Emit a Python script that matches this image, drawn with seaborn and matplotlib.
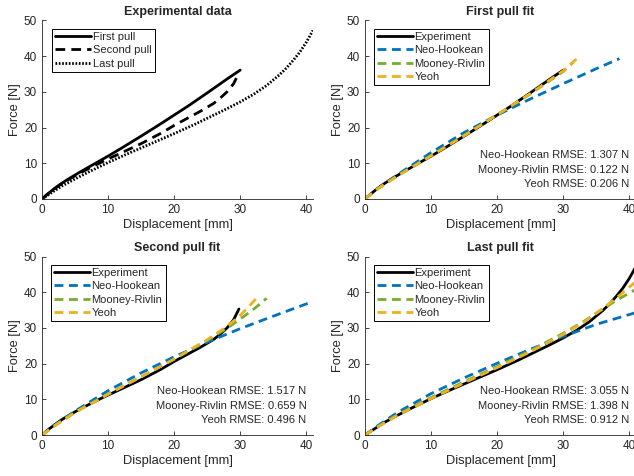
import numpy as np
import pandas as pd
import matplotlib
matplotlib.use("Agg")
import matplotlib.pyplot as plt
import seaborn as sns

# experimental curves: displacement [mm], force [N]
first_x = [0, 1, 2, 3, 4, 5, 6, 8, 10, 12, 15, 18, 20, 22, 25, 28, 30]
first_y = [0, 1.6, 3.1, 4.4, 5.6, 6.7, 7.8, 9.9, 12.0, 14.2, 17.6, 21.1, 23.5, 25.9, 29.7, 33.6, 36.1]
second_x = [0, 1, 2, 3, 4, 5, 6, 8, 10, 12, 15, 18, 20, 22, 24, 26, 27, 28, 29, 29.8]
second_y = [0, 1.6, 3.0, 4.3, 5.4, 6.5, 7.5, 9.4, 11.2, 12.9, 15.5, 18.4, 20.6, 22.6, 24.6, 26.8, 28.3, 30.0, 32.3, 35.3]
last_x = [0, 1, 2, 3, 5, 7, 10, 13, 15, 18, 20, 23, 25, 28, 30, 32, 34, 36, 37, 38, 39, 40, 41]
last_y = [0, 1.2, 2.4, 3.6, 5.6, 7.5, 10.2, 12.7, 14.3, 16.7, 18.3, 20.8, 22.6, 25.3, 27.2, 29.3, 31.8, 34.9, 36.7, 38.8, 41.1, 43.9, 47.2]

# model fits
fit1_neo_x = [0, 2, 5, 10, 15, 20, 25, 30, 35, 38.5]
fit1_neo_y = [0, 3.0, 6.9, 13.0, 18.6, 23.5, 28.0, 32.3, 36.5, 39.3]
fit1_mr_x = [0, 2, 5, 10, 15, 20, 25, 30, 31.5]
fit1_mr_y = [0, 3.0, 6.6, 12.2, 17.8, 23.6, 29.4, 35.7, 38.3]
fit1_yeoh_x = [0, 2, 5, 10, 15, 20, 25, 30, 32]
fit1_yeoh_y = [0, 2.9, 6.5, 12.1, 17.7, 23.6, 29.5, 35.9, 39.2]

fit2_neo_x = [0, 2, 5, 10, 15, 20, 25, 30, 35, 41]
fit2_neo_y = [0, 2.9, 6.7, 12.4, 17.4, 21.9, 26.0, 29.8, 33.3, 37.4]
fit2_mr_x = [0, 2, 5, 10, 15, 20, 25, 28, 30, 32, 34]
fit2_mr_y = [0, 2.7, 6.4, 11.5, 16.3, 21.2, 26.5, 29.9, 32.5, 35.2, 38.3]
fit2_yeoh_x = [0, 2, 5, 10, 15, 20, 25, 28, 30, 31, 32, 32.8]
fit2_yeoh_y = [0, 2.7, 6.3, 11.4, 16.3, 21.3, 26.7, 30.4, 33.5, 35.4, 37.4, 39.0]

fit3_neo_x = [0, 2, 5, 10, 15, 20, 25, 30, 35, 41]
fit3_neo_y = [0, 2.7, 6.4, 11.6, 16.0, 20.1, 24.0, 27.6, 31.0, 34.3]
fit3_mr_x = [0, 2, 5, 10, 15, 20, 25, 30, 33, 36, 38, 41]
fit3_mr_y = [0, 2.4, 5.8, 10.5, 14.9, 19.2, 23.6, 28.5, 31.7, 35.3, 37.7, 40.8]
fit3_yeoh_x = [0, 2, 5, 10, 15, 20, 25, 30, 33, 36, 38, 41]
fit3_yeoh_y = [0, 2.3, 5.6, 10.2, 14.6, 18.9, 23.3, 28.2, 31.5, 35.5, 38.3, 43.0]

model_names = ["Neo-Hookean", "Mooney-Rivlin", "Yeoh"]
rmse1 = ["1.307", "0.122", "0.206"]
rmse2 = ["1.517", "0.659", "0.496"]
rmse3 = ["3.055", "1.398", "0.912"]

sns.set_style("ticks")
plt.rcParams["font.family"] = ["Liberation Sans", "DejaVu Sans"]
plt.rcParams["xtick.direction"] = "in"
plt.rcParams["ytick.direction"] = "in"

colors = {"Neo-Hookean": "#0072BD", "Mooney-Rivlin": "#77AC30", "Yeoh": "#EDB120"}
fs = 8

fig = plt.figure(figsize=(6.34, 4.76), dpi=100)
w, h = 0.4274, 0.375
ax1 = fig.add_axes([0.0662, 0.582, w, h])
ax2 = fig.add_axes([0.5757, 0.582, w, h])
ax3 = fig.add_axes([0.0662, 0.0861, w, h])
ax4 = fig.add_axes([0.5757, 0.0861, w, h])


def style(ax, title, leg_x):
    ax.set_xlim(0, 41)
    ax.set_ylim(0, 50)
    ax.set_xticks([0, 10, 20, 30, 40])
    ax.set_yticks([0, 10, 20, 30, 40, 50])
    ax.tick_params(labelsize=8.5, colors="#262626", length=3, width=0.6)
    for s in ["left", "bottom"]:
        ax.spines[s].set_linewidth(0.6)
        ax.spines[s].set_color("#262626")
    sns.despine(ax=ax)
    ax.set_xlabel("Displacement [mm]", fontsize=9.3, color="#262626", labelpad=2)
    ax.set_ylabel("Force [N]", fontsize=9.3, color="#262626", labelpad=2)
    ax.set_title(title, fontsize=9, fontweight="bold", pad=4)
    leg = ax.legend(loc="upper left", bbox_to_anchor=(leg_x, 0.955), fontsize=fs,
                    handlelength=3.2, handletextpad=0.15, borderpad=0.3,
                    labelspacing=0.3, fancybox=False, framealpha=1,
                    borderaxespad=0)
    leg.get_frame().set_edgecolor("black")
    leg.get_frame().set_linewidth(0.7)


# experimental data
df = pd.DataFrame({"x": first_x, "y": first_y})
sns.lineplot(data=df, x="x", y="y", ax=ax1, color="black", lw=2, sort=False, label="First pull")
df = pd.DataFrame({"x": second_x, "y": second_y})
sns.lineplot(data=df, x="x", y="y", ax=ax1, color="black", lw=2, sort=False,
             linestyle=(0, (3.5, 2.2)), label="Second pull")
df = pd.DataFrame({"x": last_x, "y": last_y})
sns.lineplot(data=df, x="x", y="y", ax=ax1, color="black", lw=2, sort=False,
             linestyle=(0, (0.6, 0.6)), label="Last pull")
style(ax1, "Experimental data", 0.037)

panels = [
    (ax2, "First pull fit", first_x, first_y,
     [(fit1_neo_x, fit1_neo_y), (fit1_mr_x, fit1_mr_y), (fit1_yeoh_x, fit1_yeoh_y)], rmse1),
    (ax3, "Second pull fit", second_x, second_y,
     [(fit2_neo_x, fit2_neo_y), (fit2_mr_x, fit2_mr_y), (fit2_yeoh_x, fit2_yeoh_y)], rmse2),
    (ax4, "Last pull fit", last_x, last_y,
     [(fit3_neo_x, fit3_neo_y), (fit3_mr_x, fit3_mr_y), (fit3_yeoh_x, fit3_yeoh_y)], rmse3),
]

for ax, title, ex, ey, fits, rmse in panels:
    df = pd.DataFrame({"x": ex, "y": ey})
    sns.lineplot(data=df, x="x", y="y", ax=ax, color="black", lw=2, sort=False, label="Experiment")
    for name, (fx, fy) in zip(model_names, fits):
        df = pd.DataFrame({"x": fx, "y": fy})
        sns.lineplot(data=df, x="x", y="y", ax=ax, color=colors[name], lw=2, sort=False,
                     linestyle=(0, (3.2, 2.0)), label=name)
    style(ax, title, 0.033)
    for k, (name, r) in enumerate(zip(model_names, rmse)):
        ax.text(40, 12.2 - 4 * k, f"{name} RMSE: {r} N", ha="right", va="center",
                fontsize=fs, color="#262626")

fig.savefig("out.png", dpi=100)
